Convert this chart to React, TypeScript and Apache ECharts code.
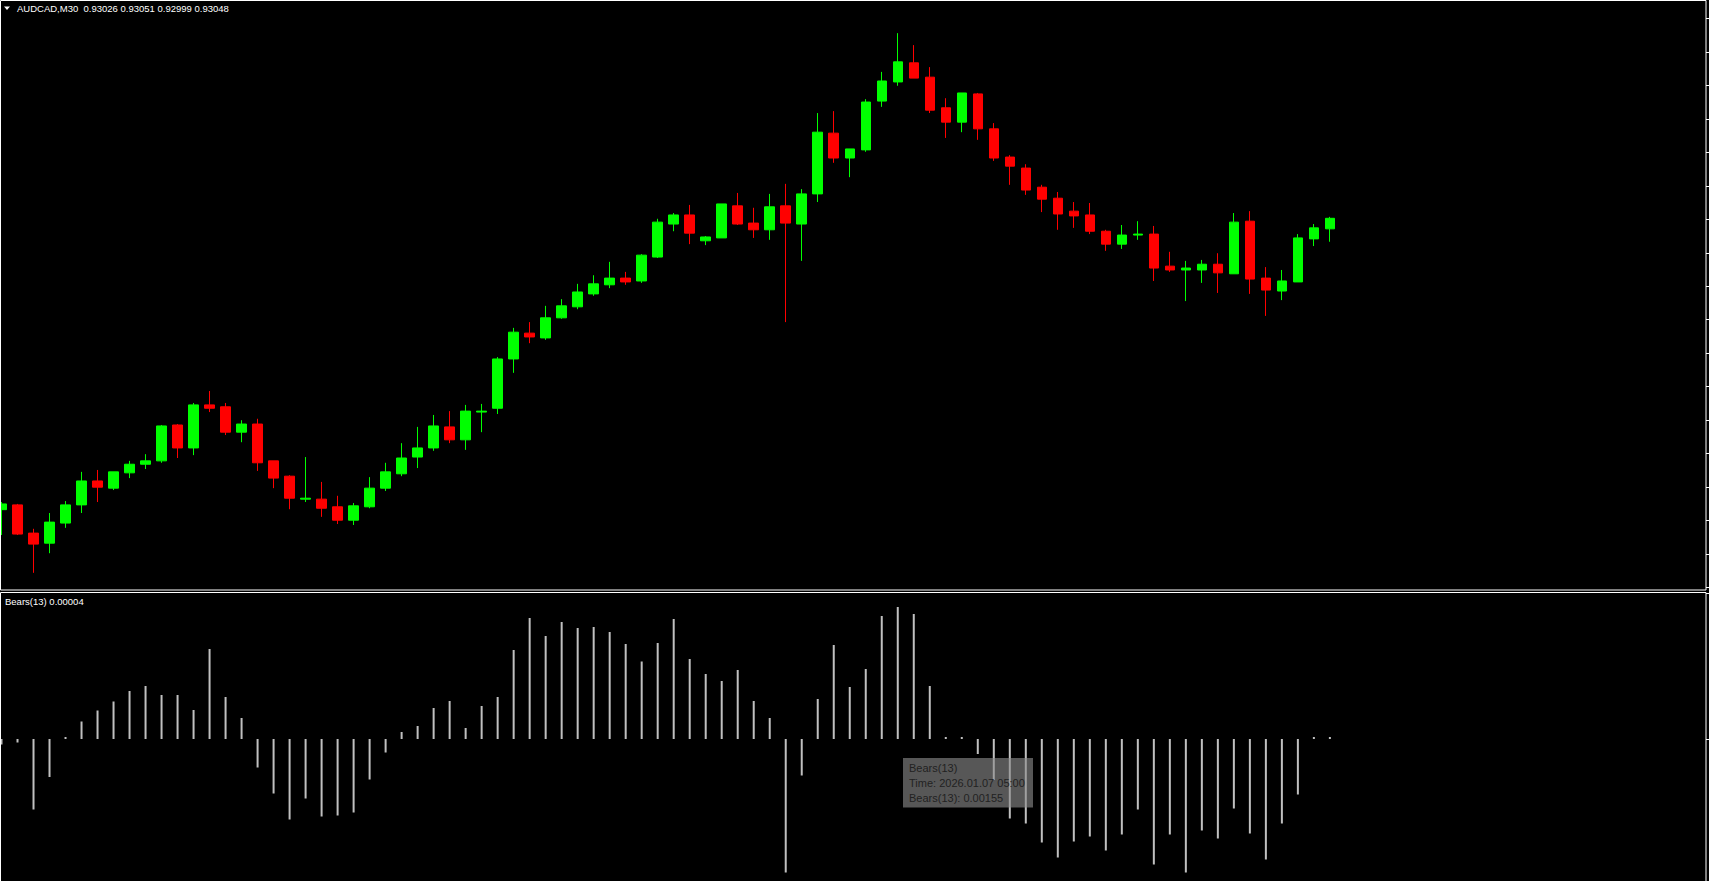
import React, { useEffect, useRef } from "react";
import * as echarts from "echarts";

const SYMBOL = "AUDCAD,M30";
const INDICATOR = "Bears(13)";
const FIRST_BAR = { y: 2026, m: 1, d: 6, hh: 9, mm: 0 };
const BAR_MINUTES = 30;
const SHIFT_BARS = 23;
const HOVER_BAR = 40;

const opens = [
  0.92439, 0.92449, 0.9239, 0.92369, 0.92411, 0.92449, 0.92499, 0.92484, 0.92516, 0.92534,
  0.92541, 0.92616, 0.92568, 0.92658, 0.92654, 0.92601, 0.92618, 0.92541, 0.92509, 0.92461,
  0.92461, 0.92445, 0.92417, 0.92445, 0.92484, 0.92514, 0.92549, 0.92568, 0.92612, 0.92585,
  0.92643, 0.92651, 0.92754, 0.92808, 0.92798, 0.9284, 0.92863, 0.9289, 0.92909, 0.92923,
  0.92917, 0.92967, 0.93036, 0.93055, 0.93001, 0.93007, 0.93074, 0.93038, 0.93024, 0.93074,
  0.93036, 0.93099, 0.93226, 0.93174, 0.93191, 0.93293, 0.93333, 0.93373, 0.93343, 0.93279,
  0.93249, 0.93308, 0.93235, 0.93176, 0.93153, 0.93113, 0.9309, 0.93063, 0.93055, 0.93021,
  0.92994, 0.93013, 0.93015, 0.92948, 0.9294, 0.9294, 0.92952, 0.92932, 0.93042, 0.92923,
  0.92896, 0.92915, 0.93005, 0.93026,
];
const closes = [
  0.92451, 0.92388, 0.92367, 0.92413, 0.92449, 0.92499, 0.92486, 0.92518, 0.92534, 0.92541,
  0.92614, 0.92568, 0.92658, 0.92651, 0.92601, 0.92618, 0.92537, 0.92505, 0.92463, 0.92463,
  0.92442, 0.92417, 0.92447, 0.92484, 0.92518, 0.92547, 0.92568, 0.92614, 0.92585, 0.92645,
  0.92645, 0.92754, 0.9281, 0.928, 0.9284, 0.92865, 0.92894, 0.92911, 0.92923, 0.92915,
  0.92971, 0.9304, 0.93055, 0.93017, 0.93009, 0.93078, 0.93036, 0.93024, 0.93072, 0.93038,
  0.93099, 0.93228, 0.93174, 0.93193, 0.93291, 0.93335, 0.93375, 0.93341, 0.93274, 0.93249,
  0.9331, 0.93235, 0.93174, 0.93157, 0.93107, 0.93088, 0.93057, 0.93053, 0.93021, 0.92994,
  0.93013, 0.93015, 0.92944, 0.9294, 0.92944, 0.92952, 0.92934, 0.9304, 0.92921, 0.92898,
  0.92917, 0.93007, 0.93028, 0.93048,
];
const lows = [
  0.92386, 0.92386, 0.92307, 0.92348, 0.92401, 0.92432, 0.92455, 0.9248, 0.92505, 0.92524,
  0.92537, 0.92547, 0.92553, 0.92643, 0.92595, 0.9258, 0.9252, 0.92484, 0.9244, 0.92455,
  0.92424, 0.92409, 0.92407, 0.92442, 0.92478, 0.92509, 0.92526, 0.92562, 0.92578, 0.92564,
  0.92601, 0.92639, 0.92725, 0.92787, 0.92794, 0.92838, 0.92858, 0.92886, 0.92902, 0.92909,
  0.92913, 0.92965, 0.93021, 0.92994, 0.92992, 0.93007, 0.93034, 0.93007, 0.93003, 0.92831,
  0.92959, 0.93082, 0.93164, 0.93134, 0.93187, 0.93281, 0.93325, 0.93341, 0.93268, 0.93216,
  0.93228, 0.93212, 0.93168, 0.93118, 0.93097, 0.93061, 0.93024, 0.93028, 0.93015, 0.9298,
  0.92984, 0.93003, 0.92917, 0.92936, 0.92875, 0.92913, 0.92892, 0.92932, 0.9289, 0.92844,
  0.92877, 0.92915, 0.9299, 0.92999,
];
const highs = [
  0.92455, 0.92451, 0.92399, 0.92432, 0.92457, 0.92518, 0.92522, 0.92518, 0.92541, 0.92555,
  0.92616, 0.92618, 0.92662, 0.92687, 0.92662, 0.92626, 0.92629, 0.92541, 0.92511, 0.92549,
  0.92497, 0.92468, 0.92453, 0.92507, 0.92537, 0.92578, 0.92612, 0.92637, 0.92645, 0.92658,
  0.9266, 0.92758, 0.92819, 0.92831, 0.92865, 0.92879, 0.92911, 0.92929, 0.92957, 0.92936,
  0.92973, 0.93047, 0.93059, 0.93076, 0.93011, 0.93078, 0.93101, 0.9307, 0.93099, 0.9312,
  0.93109, 0.93268, 0.93272, 0.93193, 0.93297, 0.93354, 0.93435, 0.9341, 0.93364, 0.93299,
  0.9331, 0.9331, 0.93247, 0.9318, 0.93161, 0.93118, 0.93103, 0.93082, 0.9308, 0.93024,
  0.93034, 0.93042, 0.93032, 0.92978, 0.92959, 0.92961, 0.92975, 0.93059, 0.93063, 0.92946,
  0.9294, 0.93015, 0.93036, 0.93051,
];
const bears = [
  -0.00011, -0.00007, -0.00141, -0.00076, 0.00004, 0.00035, 0.00057, 0.00075, 0.00096, 0.00106,
  0.00088, 0.00088, 0.00058, 0.0018, 0.00084, 0.00042, -0.00057, -0.00109, -0.00161, -0.00119,
  -0.00155, -0.00153, -0.00147, -0.00081, -0.00027, 0.00014, 0.00026, 0.00062, 0.00076, 0.00022,
  0.00066, 0.00084, 0.00178, 0.00242, 0.00206, 0.00234, 0.00222, 0.00224, 0.00214, 0.0019,
  0.00155, 0.00192, 0.0024, 0.0016, 0.0013, 0.00116, 0.00138, 0.00076, 0.00042, -0.00267,
  -0.00073, 0.0008, 0.00188, 0.00104, 0.0014, 0.00246, 0.00264, 0.0025, 0.00106, 0.00004,
  0.00004, -0.0003, -0.00082, -0.00159, -0.00169, -0.00207, -0.00237, -0.00205, -0.00195, -0.00223,
  -0.00191, -0.00141, -0.00251, -0.00191, -0.00267, -0.00183, -0.00199, -0.00139, -0.00189, -0.00241,
  -0.00169, -0.00111, 0.00004, 0.00004,
];

const PRICE_MIN = 0.922711;
const PRICE_MAX = 0.935022;
const BEARS_MIN = -0.00284;
const BEARS_MAX = 0.00292;

const pad = (n: number) => String(n).padStart(2, "0");
const times: string[] = opens.map((_, i) => {
  const t = new Date(
    Date.UTC(FIRST_BAR.y, FIRST_BAR.m - 1, FIRST_BAR.d, FIRST_BAR.hh, FIRST_BAR.mm) +
      i * BAR_MINUTES * 60000
  );
  return `${t.getUTCFullYear()}.${pad(t.getUTCMonth() + 1)}.${pad(t.getUTCDate())} ${pad(
    t.getUTCHours()
  )}:${pad(t.getUTCMinutes())}`;
});
const categories = [...times, ...Array.from({ length: SHIFT_BARS }, (_, i) => `shift${i}`)];

const FONT = "'Liberation Sans', Arial, sans-serif";

export default function App() {
  const ref = useRef<HTMLDivElement>(null);
  useEffect(() => {
    if (!ref.current) return;
    const chart = echarts.init(ref.current, undefined, { renderer: "svg" });
    const last = opens.length - 1;
    const header = `${SYMBOL}  ${opens[last].toFixed(5)} ${highs[last].toFixed(5)} ${lows[
      last
    ].toFixed(5)} ${closes[last].toFixed(5)}`;
    const indLabel = `${INDICATOR} ${bears[last].toFixed(5)}`;
    const candleData = opens.map((o, i) => [o, closes[i], lows[i], highs[i]]);

    const tickAxis = (grid: number, max: number) => ({
      type: "value",
      gridIndex: grid,
      position: "right",
      min: 0,
      max,
      interval: 1,
      axisLine: { show: false, onZero: false },
      axisTick: { show: true, inside: false, length: 3, lineStyle: { color: "#ffffff", width: 1 } },
      axisLabel: { show: false },
      splitLine: { show: false },
    });

    chart.setOption({
      animation: false,
      backgroundColor: "#000000",
      grid: [
        { left: -6.5, top: 1, width: 1712.5, height: 589, outerBoundsMode: "none" },
        { left: -6.5, top: 593, width: 1712.5, height: 288, outerBoundsMode: "none" },
        { left: 0, top: 18.7, width: 1706, height: 568.6, outerBoundsMode: "none" },
        { left: 0, top: 593, width: 1706, height: 146, outerBoundsMode: "none" },
      ],
      xAxis: [
        { type: "category", gridIndex: 0, data: categories, boundaryGap: true, show: false },
        { type: "category", gridIndex: 1, data: categories, boundaryGap: true, show: false },
        { type: "value", gridIndex: 2, min: 0, max: 1, show: false },
        { type: "value", gridIndex: 3, min: 0, max: 1, show: false },
      ],
      yAxis: [
        { type: "value", gridIndex: 0, min: PRICE_MIN, max: PRICE_MAX, show: false, scale: true },
        { type: "value", gridIndex: 1, min: BEARS_MIN, max: BEARS_MAX, show: false },
        tickAxis(2, 17),
        tickAxis(3, 1),
      ],
      series: [
        {
          type: "candlestick",
          name: SYMBOL,
          xAxisIndex: 0,
          yAxisIndex: 0,
          data: candleData,
          barWidth: 10,
          itemStyle: {
            color: "#00ff00",
            color0: "#ff0000",
            borderColor: "#00ff00",
            borderColor0: "#ff0000",
            borderWidth: 1,
          },
        },
        {
          type: "bar",
          name: INDICATOR,
          xAxisIndex: 1,
          yAxisIndex: 1,
          data: bears,
          barWidth: 2,
          itemStyle: { color: "#c0c0c0" },
        },
      ],
      graphic: [
        {
          type: "rect",
          z: 50,
          shape: { x: 0.5, y: 0.5, width: 1705.5, height: 589.5 },
          style: { fill: "none", stroke: "#ffffff", lineWidth: 1 },
        },
        {
          type: "rect",
          z: 50,
          shape: { x: 0.5, y: 592.5, width: 1705.5, height: 300 },
          style: { fill: "none", stroke: "#ffffff", lineWidth: 1 },
        },
        {
          type: "polygon",
          z: 50,
          shape: { points: [[4, 6.5], [10, 6.5], [7, 10]] },
          style: { fill: "#ffffff" },
        },
        {
          type: "text",
          z: 50,
          x: 17,
          y: 8.7,
          style: {
            text: header,
            fill: "#ffffff",
            font: `9.5px ${FONT}`,
            verticalAlign: "middle",
            textVerticalAlign: "middle",
          },
        },
        {
          type: "text",
          z: 50,
          x: 5,
          y: 601.7,
          style: {
            text: indLabel,
            fill: "#ffffff",
            font: `9.5px ${FONT}`,
            verticalAlign: "middle",
            textVerticalAlign: "middle",
          },
        },
        {
          type: "group",
          z: 100,
          children: [
            {
              type: "rect",
              z: 100,
              shape: { x: 903, y: 758, width: 130, height: 49.5 },
              style: { fill: "rgba(140,140,140,0.62)" },
            },
            {
              type: "text",
              z: 101,
              x: 909,
              y: 767.8,
              style: {
                text: INDICATOR,
                fill: "#222222",
                font: `11px ${FONT}`,
                verticalAlign: "middle",
                textVerticalAlign: "middle",
              },
            },
            {
              type: "text",
              z: 101,
              x: 909,
              y: 782.8,
              style: {
                text: `Time: ${times[HOVER_BAR]}`,
                fill: "#222222",
                font: `11px ${FONT}`,
                verticalAlign: "middle",
                textVerticalAlign: "middle",
              },
            },
            {
              type: "text",
              z: 101,
              x: 909,
              y: 797.8,
              style: {
                text: `${INDICATOR}: ${bears[HOVER_BAR].toFixed(5)}`,
                fill: "#222222",
                font: `11px ${FONT}`,
                verticalAlign: "middle",
                textVerticalAlign: "middle",
              },
            },
          ],
        },
      ],
    });
    return () => chart.dispose();
  }, []);
  return (
    <div
      ref={ref}
      style={{ position: "fixed", left: 0, top: 0, width: 1709, height: 881, background: "#000" }}
    />
  );
}
